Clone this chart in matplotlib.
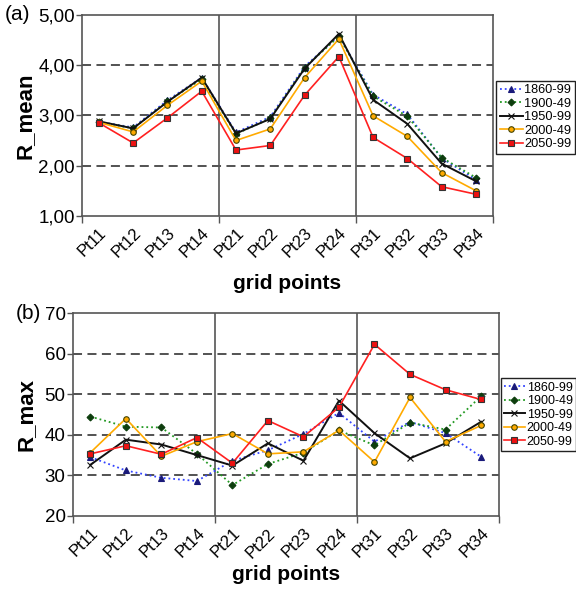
import numpy as np
import matplotlib.pyplot as plt
from matplotlib.ticker import FuncFormatter

plt.rcParams['font.family'] = ['Liberation Sans', 'DejaVu Sans']

# Kategorien (Gitterpunkte) und Zeitraeume
points = ['Pt11', 'Pt12', 'Pt13', 'Pt14', 'Pt21', 'Pt22', 'Pt23', 'Pt24',
          'Pt31', 'Pt32', 'Pt33', 'Pt34']
periods = ['1860-99', '1900-49', '1950-99', '2000-49', '2050-99']

# (a) R_mean
mean_1860 = [2.87, 2.76, 3.30, 3.75, 2.66, 2.97, 3.97, 4.58, 3.41, 3.02, 2.15, 1.72]
mean_1900 = [2.87, 2.74, 3.28, 3.72, 2.63, 2.94, 3.95, 4.57, 3.38, 2.98, 2.16, 1.76]
mean_1950 = [2.88, 2.74, 3.27, 3.75, 2.64, 2.93, 3.93, 4.62, 3.31, 2.83, 2.04, 1.69]
mean_2000 = [2.86, 2.67, 3.20, 3.68, 2.50, 2.73, 3.75, 4.52, 2.99, 2.58, 1.86, 1.50]
mean_2050 = [2.85, 2.45, 2.95, 3.48, 2.31, 2.40, 3.40, 4.17, 2.56, 2.14, 1.58, 1.43]

# (b) R_max
max_1860 = [34.5, 31.2, 29.4, 28.6, 33.6, 36.2, 40.2, 45.4, 38.3, 43.2, 40.4, 34.6]
max_1900 = [44.5, 42.0, 41.8, 35.3, 27.6, 32.8, 35.6, 41.1, 37.4, 43.0, 41.3, 49.5]
max_1950 = [32.6, 38.8, 37.6, 35.0, 32.4, 37.9, 33.6, 48.4, 40.4, 34.2, 37.9, 43.2]
max_2000 = [35.6, 44.0, 34.7, 38.3, 40.3, 35.3, 35.8, 41.1, 33.3, 49.2, 38.3, 42.3]
max_2050 = [35.3, 37.3, 35.2, 39.3, 33.0, 43.5, 39.5, 46.8, 62.3, 54.9, 51.1, 48.7]

# Stil pro Zeitraum: Farbe, Linienstil, Marker, Markerfarbe
styles = [
    dict(color='#3344ff', ls=':', marker='^', mfc='#1a1a7a', mec='#1a1a7a', lw=1.3),
    dict(color='#229922', ls=':', marker='D', mfc='#0d3d0d', mec='#0d3d0d', lw=1.3, ms=3.5),
    dict(color='#111111', ls='-', marker='x', mfc='#111111', mec='#111111', lw=1.4),
    dict(color='#ffaa00', ls='-', marker='o', mfc='#ffaa00', mec='#444400', lw=1.2),
    dict(color='#ff2020', ls='-', marker='s', mfc='#ee1111', mec='#333333', lw=1.2),
]

x = np.arange(len(points))
frame_col = '#555555'


def style_axes(ax, ylim, yticks, grid_vals, fmt, xpad):
    ax.set_xlim(-0.5, len(points) - 0.5)
    ax.set_ylim(*ylim)
    ax.set_yticks(yticks)
    ax.yaxis.set_major_formatter(FuncFormatter(fmt))
    ax.set_xticks(x)
    ax.set_xticklabels(points, rotation=45, ha='right', rotation_mode='anchor',
                       fontsize=12)
    ax.tick_params(axis='x', length=0, pad=7)
    ax.set_xticks([-0.5, 3.5, 7.5, 11.5], minor=True)
    ax.tick_params(axis='x', which='minor', length=5, width=1, color=frame_col)
    ax.tick_params(axis='y', length=4, width=1, color=frame_col, labelsize=13.5, pad=1)
    for g in grid_vals:
        ax.axhline(g, color='#444444', ls=(0, (5, 3)), lw=1.3, zorder=0)
    for v in [3.5, 7.5]:
        ax.axvline(v, color=frame_col, lw=1.2, zorder=0)
    for s in ax.spines.values():
        s.set_color(frame_col)
        s.set_linewidth(1.2)
    ax.set_xlabel('grid points', fontsize=15, fontweight='bold', labelpad=xpad)


def add_legend(ax, y):
    ax.legend(loc='center left', bbox_to_anchor=(1.008, y), fontsize=9.2,
              frameon=True, fancybox=False, edgecolor='#222222', borderpad=0.25,
              handlelength=1.8, handletextpad=0.15, labelspacing=0.12,
              borderaxespad=0, framealpha=1)


fig = plt.figure(figsize=(5.76, 5.93), dpi=100)

# Panel (a)
ax1 = fig.add_axes([0.142, 0.636, 0.714, 0.339])
for data, lab, st in zip([mean_1860, mean_1900, mean_1950, mean_2000, mean_2050],
                         periods, styles):
    st = dict(st)
    ms = st.pop('ms', 4)
    ax1.plot(x, data, label=lab, ms=ms, mew=0.8, **st)
style_axes(ax1, (1, 5), [1, 2, 3, 4, 5], [2, 3, 4],
           lambda v, p: f'{v:.2f}'.replace('.', ','), 10)
ax1.set_ylabel('R_mean', fontsize=16, fontweight='bold', labelpad=2)
add_legend(ax1, 0.49)
fig.text(0.008, 0.975, '(a)', fontsize=15, va='center')

# Panel (b)
ax2 = fig.add_axes([0.126, 0.130, 0.740, 0.342])
for data, lab, st in zip([max_1860, max_1900, max_1950, max_2000, max_2050],
                         periods, styles):
    st = dict(st)
    ms = st.pop('ms', 4)
    ax2.plot(x, data, label=lab, ms=ms, mew=0.8, **st)
style_axes(ax2, (20, 70), [20, 30, 40, 50, 60, 70], [30, 40, 50, 60],
           lambda v, p: f'{v:.0f}', 3)
ax2.set_ylabel('R_max', fontsize=16, fontweight='bold', labelpad=6)
ax2.legend_ = None
ax2.legend(loc='center left', bbox_to_anchor=(1.004, 0.50), fontsize=9.0,
           frameon=True, fancybox=False, edgecolor='#222222', borderpad=0.25,
           handlelength=1.7, handletextpad=0.15, labelspacing=0.12,
           borderaxespad=0, framealpha=1)
fig.text(0.027, 0.472, '(b)', fontsize=15, va='center')

fig.savefig('out.png', dpi=100)
